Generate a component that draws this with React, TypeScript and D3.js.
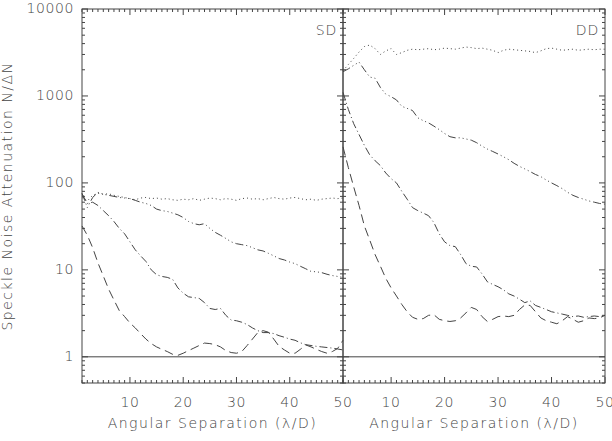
import React from 'react';
import * as d3 from 'd3';

// separation in lambda/D, shared by every curve
const sep = d3.range(1, 51);

// single difference (SD) panel
const sdDotted = [68, 62, 72, 76, 74, 75, 72, 70, 68, 66, 64, 67, 68, 66, 67, 65, 66, 64, 63, 65, 64, 66, 63, 65, 67, 66, 64, 66, 65, 63, 66, 67, 65, 66, 64, 66, 68, 66, 65, 67, 68, 66, 64, 65, 63, 65, 66, 67, 66, 67];
const sdDash3Dot = [76, 52, 68, 78, 74, 72, 70, 68, 67, 66, 63, 60, 58, 55, 50, 48, 47, 45, 43, 40, 36, 34, 33, 34, 30, 27, 25, 23, 21, 20, 19.5, 19, 18, 17, 16.5, 15.5, 14.5, 13.5, 13, 12.3, 11.8, 11, 10.3, 9.6, 9.5, 9.3, 8.9, 8.6, 8.4, 8.2];
const sdDashDot = [75, 58, 60, 55, 48, 42, 36, 30, 26, 21, 17, 14.5, 12.5, 10, 8.8, 8.4, 8.2, 7.8, 6.2, 5.4, 4.9, 4.8, 4.7, 4.2, 3.6, 3.5, 3.6, 3.0, 2.65, 2.6, 2.5, 2.35, 2.15, 2.0, 1.9, 1.9, 1.85, 1.75, 1.68, 1.6, 1.55, 1.45, 1.38, 1.35, 1.32, 1.3, 1.28, 1.26, 1.23, 1.2];
const sdDashed = [32, 25, 18, 12, 8.5, 6, 4.5, 3.4, 2.9, 2.45, 2.15, 1.85, 1.6, 1.42, 1.3, 1.22, 1.15, 1.07, 1.04, 1.1, 1.18, 1.26, 1.35, 1.44, 1.42, 1.38, 1.3, 1.18, 1.12, 1.1, 1.15, 1.35, 1.6, 1.9, 2.0, 1.92, 1.6, 1.32, 1.2, 1.1, 1.1, 1.22, 1.37, 1.3, 1.22, 1.15, 1.1, 1.15, 1.25, 1.55];

// double difference (DD) panel
const ddDotted = [1950, 2300, 2700, 3200, 3700, 3850, 3500, 3000, 3300, 3500, 3000, 3150, 3350, 3450, 3400, 3450, 3500, 3400, 3450, 3550, 3500, 3450, 3550, 3650, 3600, 3500, 3550, 3450, 3350, 3150, 3350, 3450, 3400, 3350, 3300, 3250, 3150, 3300, 3500, 3550, 3450, 3350, 3400, 3450, 3350, 3400, 3450, 3400, 3450, 3450];
const ddDash3Dot = [1900, 2050, 2250, 2450, 2000, 1650, 1600, 1250, 1050, 980, 900, 760, 720, 680, 560, 520, 490, 450, 410, 370, 340, 330, 330, 320, 310, 290, 265, 245, 230, 215, 200, 185, 168, 155, 145, 135, 125, 118, 108, 100, 93, 86, 78, 72, 68, 65, 62, 60, 58, 57];
const ddDashDot = [1100, 700, 480, 360, 270, 210, 180, 158, 130, 112, 100, 80, 65, 52, 48, 45, 42, 35, 26, 21, 19, 18.5, 15, 11.8, 11, 10.8, 9, 7.3, 6.8, 6.4, 5.9, 5.3, 5.0, 4.6, 4.2, 4.4, 3.9, 3.7, 3.5, 3.3, 3.2, 3.1, 3.0, 2.9, 2.95, 2.85, 2.9, 2.95, 2.9, 3.0];
const ddDashed = [260, 150, 90, 55, 32, 22, 15, 11, 8, 6.2, 5, 4, 3.3, 2.85, 2.7, 2.75, 3.0, 3.05, 2.7, 2.6, 2.55, 2.6, 2.8, 3.2, 3.7, 3.5, 2.9, 2.55, 2.7, 2.9, 2.95, 2.9, 3.0, 3.5, 3.95, 3.9, 3.3, 2.8, 2.6, 2.5, 2.4, 2.6, 2.9, 2.7, 2.5, 2.6, 2.8, 2.75, 2.8, 3.0];

const xTickLabels = [10, 20, 30, 40, 50];
const yTickLabels = [1, 10, 100, 1000, 10000];
const panelNames = ['SD', 'DD'];

const ink = '#444';
const font = '"DejaVu Sans", sans-serif';

const dashes = {
  dotted: '1,3',
  dash3dot: '8,3,1,3,1,3,1,3',
  dashdot: '8,3,1,3',
  dashed: '9,5',
};

const y = d3.scaleLog().domain([0.5, 10000]).range([383, 9]);
const top = 9;
const bottom = 383;

const txt = { fontSize: 14, fill: ink, fontFamily: font, fontWeight: 200 };

function Panel({ x0, x1, name, series, showY }) {
  const x = d3.scaleLinear().domain([1, 50]).range([x0, x1]);
  const line = d3
    .line<number>()
    .x((d, i) => x(sep[i]))
    .y((d) => y(d));

  const xMinor = d3.range(1, 51).filter((v) => v % 10 !== 0);
  const yMinor: number[] = [];
  [0.1, 1, 10, 100, 1000].forEach((dec) => {
    for (let k = 2; k <= 9; k++) {
      const v = dec * k;
      if (v >= 0.5 && v < 10000) yMinor.push(v);
    }
  });

  return (
    <g>
      {series.map((s, i) => (
        <path
          key={i}
          d={line(s.values)}
          fill="none"
          stroke={ink}
          strokeWidth={1}
          strokeDasharray={s.dash}
        />
      ))}
      <line x1={x0} x2={x1} y1={y(1)} y2={y(1)} stroke={ink} strokeWidth={1} />
      <rect x={x0} y={top} width={x1 - x0} height={bottom - top} fill="none" stroke={ink} strokeWidth={1} />
      {/* x ticks, top and bottom */}
      {xMinor.map((v) => (
        <g key={'xm' + v}>
          <line x1={x(v)} x2={x(v)} y1={bottom} y2={bottom - 3} stroke={ink} />
          <line x1={x(v)} x2={x(v)} y1={top} y2={top + 3} stroke={ink} />
        </g>
      ))}
      {xTickLabels.map((v) => (
        <g key={'xM' + v}>
          <line x1={x(v)} x2={x(v)} y1={bottom} y2={bottom - 6} stroke={ink} />
          <line x1={x(v)} x2={x(v)} y1={top} y2={top + 6} stroke={ink} />
          <text x={x(v)} y={403} textAnchor="middle" dominantBaseline="middle" letterSpacing={0.6} {...txt}>
            {v}
          </text>
        </g>
      ))}
      {/* y ticks, left and right */}
      {yMinor.map((v) => (
        <g key={'ym' + v}>
          <line x1={x0} x2={x0 + 3} y1={y(v)} y2={y(v)} stroke={ink} />
          <line x1={x1} x2={x1 - 3} y1={y(v)} y2={y(v)} stroke={ink} />
        </g>
      ))}
      {yTickLabels.map((v) => (
        <g key={'yM' + v}>
          <line x1={x0} x2={x0 + 6} y1={y(v)} y2={y(v)} stroke={ink} />
          <line x1={x1} x2={x1 - 6} y1={y(v)} y2={y(v)} stroke={ink} />
          {showY && (
            <text x={74} y={y(v)} textAnchor="end" dominantBaseline="middle" letterSpacing={0.6} {...txt}>
              {v}
            </text>
          )}
        </g>
      ))}
      <text x={x1 - 6} y={31} textAnchor="end" dominantBaseline="middle" letterSpacing={0.8} {...txt}>
        {name}
      </text>
      <text x={(x0 + x1) / 2} y={424} textAnchor="middle" dominantBaseline="middle" letterSpacing={1.5} {...txt}>
        Angular Separation (λ/D)
      </text>
    </g>
  );
}

export default function App() {
  const sd = [
    { values: sdDotted, dash: dashes.dotted },
    { values: sdDash3Dot, dash: dashes.dash3dot },
    { values: sdDashDot, dash: dashes.dashdot },
    { values: sdDashed, dash: dashes.dashed },
  ];
  const dd = [
    { values: ddDotted, dash: dashes.dotted },
    { values: ddDash3Dot, dash: dashes.dash3dot },
    { values: ddDashDot, dash: dashes.dashdot },
    { values: ddDashed, dash: dashes.dashed },
  ];
  return (
    <svg width={612} height={441} style={{ position: 'absolute', left: 0, top: 0, background: '#fff' }}>
      <Panel x0={82} x1={343} name={panelNames[0]} series={sd} showY />
      <Panel x0={343} x1={605} name={panelNames[1]} series={dd} showY={false} />
      <text transform={`translate(12,196) rotate(-90)`} textAnchor="middle" letterSpacing={1.5} {...txt}>
        Speckle Noise Attenuation N/ΔN
      </text>
    </svg>
  );
}
